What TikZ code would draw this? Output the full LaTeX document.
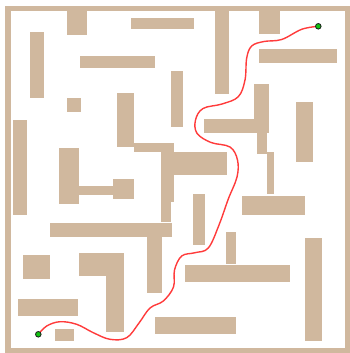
\documentclass[tikz,border=0pt]{standalone}
\usepackage{tikz}
\definecolor{arena}{HTML}{D0B89E}
\definecolor{rojo}{HTML}{FF3B3B}
\definecolor{verde}{HTML}{12C312}
\definecolor{negro}{HTML}{1A1A1A}
\tikzset{
  marco/.style = {draw=arena, line width=5.6pt},
  muro/.style  = {fill=arena},
  ruta/.style  = {draw=rojo, line width=1.4pt, line cap=round},
  meta/.style  = {circle, draw=negro, fill=verde, line width=0.8pt,
                  minimum size=5.6pt, inner sep=0pt},
}

\begin{document}
\begin{tikzpicture}[x=1pt,y=-1pt]

\useasboundingbox (0,0) rectangle (350,353);

% =============================================================================
% Marco exterior del laberinto
% =============================================================================
\draw[marco] (7.8,8.6) rectangle (348.2,351);

% =============================================================================
% Muros interiores
% =============================================================================
\foreach \xa/\ya/\xb/\yb in {
    67/11/87/35, 131/17.7/194/28.7, 30/32/43.7/97.7, 80/56/155/67.7,
    67/98/80.7/111.7, 171/71/183/127, 13/120/27/215, 117.3/92.7/134/146.7,
    134/143.3/174.3/151.7, 161/151.7/174.3/202, 161/202/171/221.7,
    174.3/151.7/227.3/175, 58.7/148.3/78.7/203.7, 78.7/186/112.7/195,
    112.7/179.3/134/199.3, 215/11/229/94.3, 259/11/279.7/34,
    259/49.3/337/62.7, 296/102/312.7/161.7, 254.3/84.3/269.3/133,
    204/118.5/269.3/133, 256.7/133/266.7/154.3, 266.7/151.7/273.5/193.7,
    50/223/172/237, 147/237/162/292.7, 23/255/50/278.7,
    78.7/253/124.3/276.3, 106/276/124.3/332, 18/299/78/315.7,
    55/328.7/73.7/340.7, 155/317/236/333.7, 193/194/205/244.7,
    242/196/304.7/214.7, 226/232/236/263.7, 185/265/290/281.7,
    305/238/322/340.7}
  \fill[muro] (\xa,\ya) rectangle (\xb,\yb);

% =============================================================================
% Camino de salida a llegada
% =============================================================================
\coordinate (salida) at (318.3,26.3);
\coordinate (llegada) at (38.3,334.3);

\draw[ruta] plot[smooth, tension=0.6] coordinates {(salida)
  (301.7,29.3) (281.7,39.5) (264,41.5) (251.7,46) (246.7,58) (245,80)
  (238.3,96.7) (222,104) (203,108.5) (195.5,120) (197,133.3) (211,142.5)
  (230,147) (237.5,160) (237,177) (228.3,199) (219,225) (208.3,248)
  (195,252.7) (181.7,256) (174.5,270) (173.5,287) (163.3,301) (150,308)
  (139,323) (126.7,337.7) (110,339.3) (93.3,332.7) (76.7,324.3)
  (60,321.7) (46.7,326) (llegada)};

\node[meta] (inicio) at (salida) {};
\node[meta] (fin) at (llegada) {};

\end{tikzpicture}
\end{document}
